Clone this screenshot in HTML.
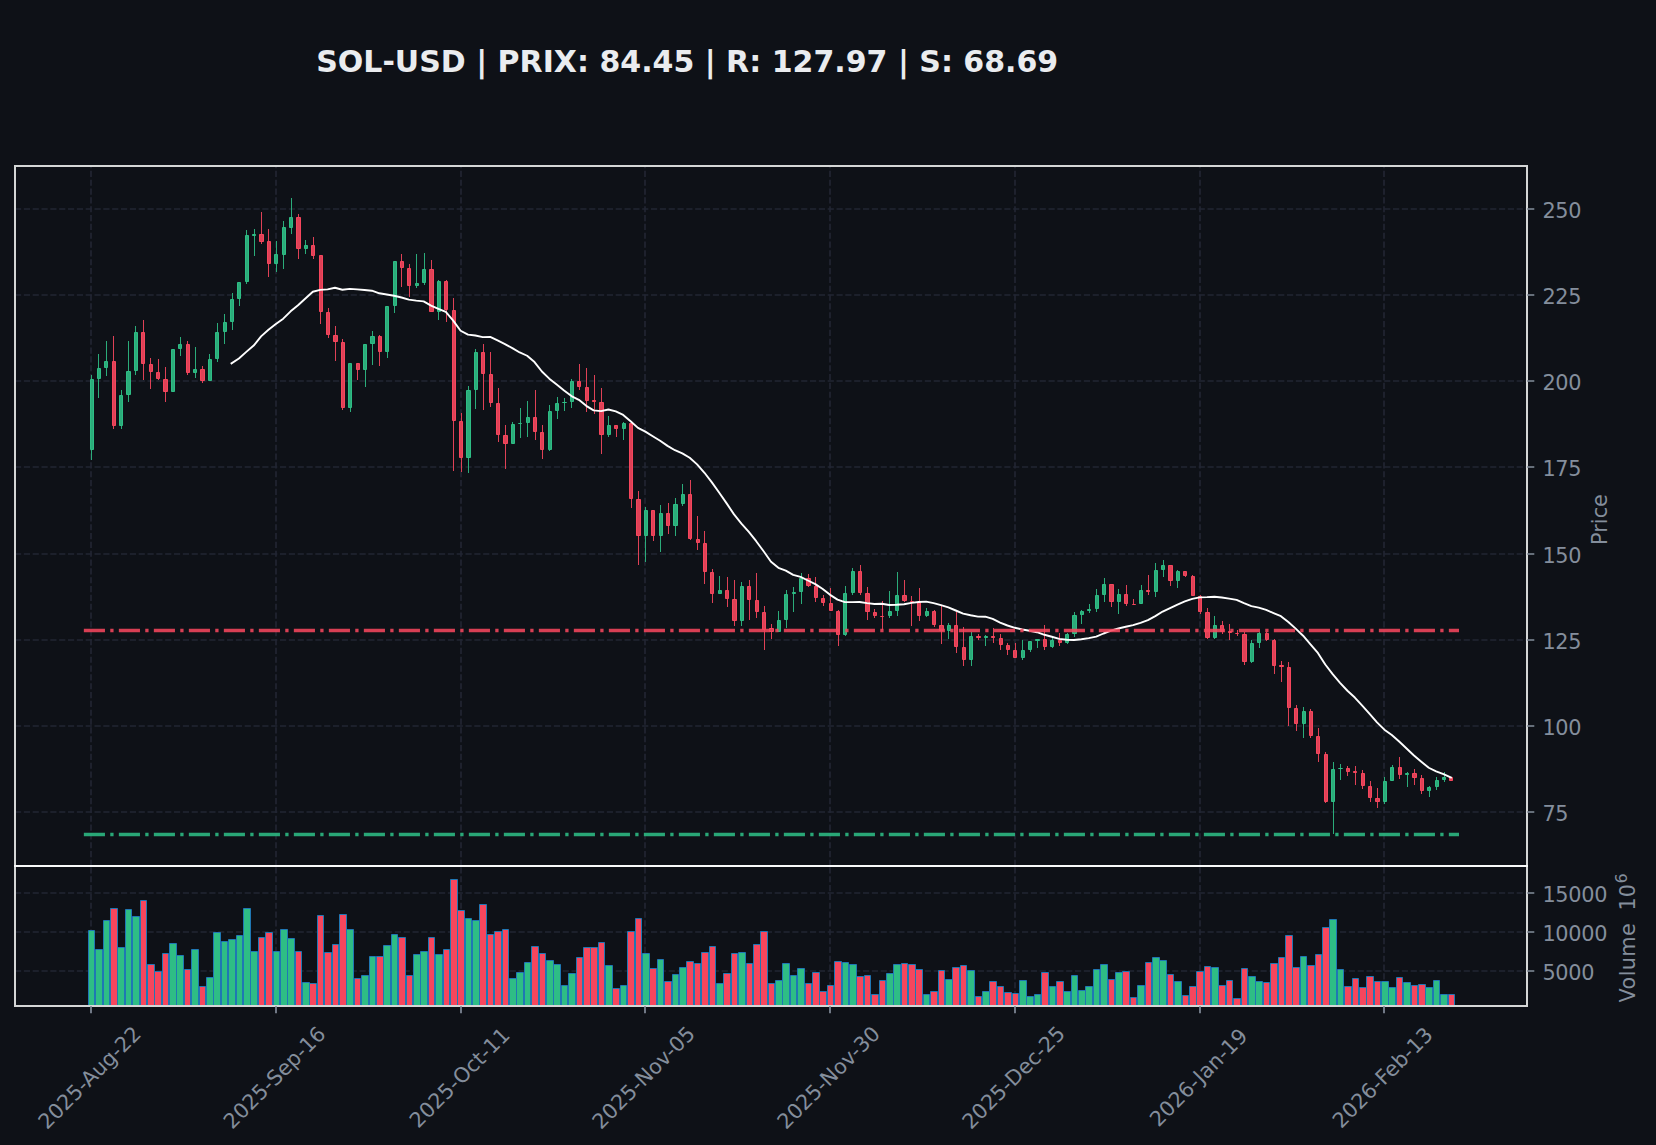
<!DOCTYPE html>
<html lang="fr"><head><meta charset="utf-8"><title>SOL-USD</title>
<style>html,body{margin:0;padding:0;background:#0e1117;}body{width:1656px;height:1145px;overflow:hidden}svg{display:block}</style>
</head><body>
<svg width="1656" height="1145" viewBox="0 0 1656 1145" font-family="'DejaVu Sans','Liberation Sans',sans-serif">
<rect width="1656" height="1145" fill="#0e1117"/>
<defs><clipPath id="cm"><rect x="15.0" y="166.0" width="1512.0" height="700.0"/></clipPath><clipPath id="cv"><rect x="15.0" y="866.0" width="1512.0" height="140.0"/></clipPath></defs>
<path d="M15.0 209.0H1527.0M15.0 295.0H1527.0M15.0 381.0H1527.0M15.0 467.0H1527.0M15.0 554.0H1527.0M15.0 640.0H1527.0M15.0 726.0H1527.0M15.0 812.0H1527.0M15.0 893.0H1527.0M15.0 932.0H1527.0M15.0 971.0H1527.0" stroke="#222633" stroke-width="1.67" stroke-dasharray="6.1667 2.6667" fill="none"/>
<path d="M91 866.0V166.0M276 866.0V166.0M461 866.0V166.0M645 866.0V166.0M830 866.0V166.0M1015 866.0V166.0M1200 866.0V166.0M1384 866.0V166.0" stroke="#222633" stroke-width="1.67" stroke-dasharray="6.1667 2.6667" fill="none"/>
<path d="M91 1006.0V866.0M276 1006.0V866.0M461 1006.0V866.0M645 1006.0V866.0M830 1006.0V866.0M1015 1006.0V866.0M1200 1006.0V866.0M1384 1006.0V866.0" stroke="#222633" stroke-width="1.67" stroke-dasharray="6.1667 2.6667" fill="none"/>
<g clip-path="url(#cv)">
<path d="M88.5 1010.0V930.5H94.5V1010.0" fill="#2ebd85" stroke="#1f77b4" stroke-width="1"/>
<path d="M95.5 1010.0V949.5H102.5V1010.0" fill="#2ebd85" stroke="#1f77b4" stroke-width="1"/>
<path d="M103.5 1010.0V920.5H109.5V1010.0" fill="#2ebd85" stroke="#1f77b4" stroke-width="1"/>
<path d="M110.5 1010.0V908.5H117.5V1010.0" fill="#f6465d" stroke="#1f77b4" stroke-width="1"/>
<path d="M117.5 1010.0V947.5H124.5V1010.0" fill="#2ebd85" stroke="#1f77b4" stroke-width="1"/>
<path d="M125.5 1010.0V909.5H131.5V1010.0" fill="#2ebd85" stroke="#1f77b4" stroke-width="1"/>
<path d="M132.5 1010.0V916.5H139.5V1010.0" fill="#2ebd85" stroke="#1f77b4" stroke-width="1"/>
<path d="M140.5 1010.0V900.5H146.5V1010.0" fill="#f6465d" stroke="#1f77b4" stroke-width="1"/>
<path d="M147.5 1010.0V964.5H154.5V1010.0" fill="#f6465d" stroke="#1f77b4" stroke-width="1"/>
<path d="M154.5 1010.0V971.5H161.5V1010.0" fill="#f6465d" stroke="#1f77b4" stroke-width="1"/>
<path d="M162.5 1010.0V953.5H168.5V1010.0" fill="#f6465d" stroke="#1f77b4" stroke-width="1"/>
<path d="M169.5 1010.0V943.5H176.5V1010.0" fill="#2ebd85" stroke="#1f77b4" stroke-width="1"/>
<path d="M176.5 1010.0V955.5H183.5V1010.0" fill="#2ebd85" stroke="#1f77b4" stroke-width="1"/>
<path d="M184.5 1010.0V969.5H190.5V1010.0" fill="#f6465d" stroke="#1f77b4" stroke-width="1"/>
<path d="M191.5 1010.0V949.5H198.5V1010.0" fill="#2ebd85" stroke="#1f77b4" stroke-width="1"/>
<path d="M199.5 1010.0V986.5H205.5V1010.0" fill="#f6465d" stroke="#1f77b4" stroke-width="1"/>
<path d="M206.5 1010.0V977.5H213.5V1010.0" fill="#2ebd85" stroke="#1f77b4" stroke-width="1"/>
<path d="M213.5 1010.0V932.5H220.5V1010.0" fill="#2ebd85" stroke="#1f77b4" stroke-width="1"/>
<path d="M221.5 1010.0V941.5H227.5V1010.0" fill="#2ebd85" stroke="#1f77b4" stroke-width="1"/>
<path d="M228.5 1010.0V939.5H235.5V1010.0" fill="#2ebd85" stroke="#1f77b4" stroke-width="1"/>
<path d="M236.5 1010.0V935.5H242.5V1010.0" fill="#2ebd85" stroke="#1f77b4" stroke-width="1"/>
<path d="M243.5 1010.0V908.5H250.5V1010.0" fill="#2ebd85" stroke="#1f77b4" stroke-width="1"/>
<path d="M250.5 1010.0V951.5H257.5V1010.0" fill="#2ebd85" stroke="#1f77b4" stroke-width="1"/>
<path d="M258.5 1010.0V937.5H264.5V1010.0" fill="#f6465d" stroke="#1f77b4" stroke-width="1"/>
<path d="M265.5 1010.0V932.5H272.5V1010.0" fill="#f6465d" stroke="#1f77b4" stroke-width="1"/>
<path d="M273.5 1010.0V951.5H279.5V1010.0" fill="#2ebd85" stroke="#1f77b4" stroke-width="1"/>
<path d="M280.5 1010.0V929.5H287.5V1010.0" fill="#2ebd85" stroke="#1f77b4" stroke-width="1"/>
<path d="M287.5 1010.0V938.5H294.5V1010.0" fill="#2ebd85" stroke="#1f77b4" stroke-width="1"/>
<path d="M295.5 1010.0V951.5H301.5V1010.0" fill="#f6465d" stroke="#1f77b4" stroke-width="1"/>
<path d="M302.5 1010.0V982.5H309.5V1010.0" fill="#2ebd85" stroke="#1f77b4" stroke-width="1"/>
<path d="M309.5 1010.0V983.5H316.5V1010.0" fill="#f6465d" stroke="#1f77b4" stroke-width="1"/>
<path d="M317.5 1010.0V915.5H323.5V1010.0" fill="#f6465d" stroke="#1f77b4" stroke-width="1"/>
<path d="M324.5 1010.0V952.5H331.5V1010.0" fill="#f6465d" stroke="#1f77b4" stroke-width="1"/>
<path d="M332.5 1010.0V944.5H338.5V1010.0" fill="#f6465d" stroke="#1f77b4" stroke-width="1"/>
<path d="M339.5 1010.0V914.5H346.5V1010.0" fill="#f6465d" stroke="#1f77b4" stroke-width="1"/>
<path d="M346.5 1010.0V929.5H353.5V1010.0" fill="#2ebd85" stroke="#1f77b4" stroke-width="1"/>
<path d="M354.5 1010.0V978.5H360.5V1010.0" fill="#f6465d" stroke="#1f77b4" stroke-width="1"/>
<path d="M361.5 1010.0V975.5H368.5V1010.0" fill="#2ebd85" stroke="#1f77b4" stroke-width="1"/>
<path d="M369.5 1010.0V956.5H375.5V1010.0" fill="#2ebd85" stroke="#1f77b4" stroke-width="1"/>
<path d="M376.5 1010.0V956.5H383.5V1010.0" fill="#f6465d" stroke="#1f77b4" stroke-width="1"/>
<path d="M383.5 1010.0V945.5H390.5V1010.0" fill="#2ebd85" stroke="#1f77b4" stroke-width="1"/>
<path d="M391.5 1010.0V934.5H397.5V1010.0" fill="#2ebd85" stroke="#1f77b4" stroke-width="1"/>
<path d="M398.5 1010.0V937.5H405.5V1010.0" fill="#f6465d" stroke="#1f77b4" stroke-width="1"/>
<path d="M406.5 1010.0V975.5H412.5V1010.0" fill="#f6465d" stroke="#1f77b4" stroke-width="1"/>
<path d="M413.5 1010.0V954.5H420.5V1010.0" fill="#2ebd85" stroke="#1f77b4" stroke-width="1"/>
<path d="M420.5 1010.0V951.5H427.5V1010.0" fill="#2ebd85" stroke="#1f77b4" stroke-width="1"/>
<path d="M428.5 1010.0V937.5H434.5V1010.0" fill="#f6465d" stroke="#1f77b4" stroke-width="1"/>
<path d="M435.5 1010.0V954.5H442.5V1010.0" fill="#2ebd85" stroke="#1f77b4" stroke-width="1"/>
<path d="M443.5 1010.0V949.5H449.5V1010.0" fill="#f6465d" stroke="#1f77b4" stroke-width="1"/>
<path d="M450.5 1010.0V879.5H457.5V1010.0" fill="#f6465d" stroke="#1f77b4" stroke-width="1"/>
<path d="M457.5 1010.0V910.5H464.5V1010.0" fill="#f6465d" stroke="#1f77b4" stroke-width="1"/>
<path d="M465.5 1010.0V918.5H471.5V1010.0" fill="#2ebd85" stroke="#1f77b4" stroke-width="1"/>
<path d="M472.5 1010.0V920.5H479.5V1010.0" fill="#2ebd85" stroke="#1f77b4" stroke-width="1"/>
<path d="M479.5 1010.0V904.5H486.5V1010.0" fill="#f6465d" stroke="#1f77b4" stroke-width="1"/>
<path d="M487.5 1010.0V934.5H493.5V1010.0" fill="#f6465d" stroke="#1f77b4" stroke-width="1"/>
<path d="M494.5 1010.0V931.5H501.5V1010.0" fill="#f6465d" stroke="#1f77b4" stroke-width="1"/>
<path d="M502.5 1010.0V929.5H508.5V1010.0" fill="#f6465d" stroke="#1f77b4" stroke-width="1"/>
<path d="M509.5 1010.0V978.5H516.5V1010.0" fill="#2ebd85" stroke="#1f77b4" stroke-width="1"/>
<path d="M516.5 1010.0V972.5H523.5V1010.0" fill="#2ebd85" stroke="#1f77b4" stroke-width="1"/>
<path d="M524.5 1010.0V962.5H530.5V1010.0" fill="#2ebd85" stroke="#1f77b4" stroke-width="1"/>
<path d="M531.5 1010.0V946.5H538.5V1010.0" fill="#f6465d" stroke="#1f77b4" stroke-width="1"/>
<path d="M539.5 1010.0V953.5H545.5V1010.0" fill="#f6465d" stroke="#1f77b4" stroke-width="1"/>
<path d="M546.5 1010.0V960.5H553.5V1010.0" fill="#2ebd85" stroke="#1f77b4" stroke-width="1"/>
<path d="M553.5 1010.0V964.5H560.5V1010.0" fill="#2ebd85" stroke="#1f77b4" stroke-width="1"/>
<path d="M561.5 1010.0V985.5H567.5V1010.0" fill="#2ebd85" stroke="#1f77b4" stroke-width="1"/>
<path d="M568.5 1010.0V973.5H575.5V1010.0" fill="#2ebd85" stroke="#1f77b4" stroke-width="1"/>
<path d="M576.5 1010.0V957.5H582.5V1010.0" fill="#f6465d" stroke="#1f77b4" stroke-width="1"/>
<path d="M583.5 1010.0V947.5H590.5V1010.0" fill="#f6465d" stroke="#1f77b4" stroke-width="1"/>
<path d="M590.5 1010.0V947.5H597.5V1010.0" fill="#f6465d" stroke="#1f77b4" stroke-width="1"/>
<path d="M598.5 1010.0V942.5H604.5V1010.0" fill="#f6465d" stroke="#1f77b4" stroke-width="1"/>
<path d="M605.5 1010.0V965.5H612.5V1010.0" fill="#2ebd85" stroke="#1f77b4" stroke-width="1"/>
<path d="M612.5 1010.0V988.5H619.5V1010.0" fill="#f6465d" stroke="#1f77b4" stroke-width="1"/>
<path d="M620.5 1010.0V985.5H626.5V1010.0" fill="#2ebd85" stroke="#1f77b4" stroke-width="1"/>
<path d="M627.5 1010.0V931.5H634.5V1010.0" fill="#f6465d" stroke="#1f77b4" stroke-width="1"/>
<path d="M635.5 1010.0V918.5H641.5V1010.0" fill="#f6465d" stroke="#1f77b4" stroke-width="1"/>
<path d="M642.5 1010.0V953.5H649.5V1010.0" fill="#2ebd85" stroke="#1f77b4" stroke-width="1"/>
<path d="M649.5 1010.0V968.5H656.5V1010.0" fill="#f6465d" stroke="#1f77b4" stroke-width="1"/>
<path d="M657.5 1010.0V959.5H663.5V1010.0" fill="#2ebd85" stroke="#1f77b4" stroke-width="1"/>
<path d="M664.5 1010.0V981.5H671.5V1010.0" fill="#f6465d" stroke="#1f77b4" stroke-width="1"/>
<path d="M672.5 1010.0V974.5H678.5V1010.0" fill="#2ebd85" stroke="#1f77b4" stroke-width="1"/>
<path d="M679.5 1010.0V967.5H686.5V1010.0" fill="#2ebd85" stroke="#1f77b4" stroke-width="1"/>
<path d="M686.5 1010.0V961.5H693.5V1010.0" fill="#f6465d" stroke="#1f77b4" stroke-width="1"/>
<path d="M694.5 1010.0V963.5H700.5V1010.0" fill="#f6465d" stroke="#1f77b4" stroke-width="1"/>
<path d="M701.5 1010.0V952.5H708.5V1010.0" fill="#f6465d" stroke="#1f77b4" stroke-width="1"/>
<path d="M709.5 1010.0V946.5H715.5V1010.0" fill="#f6465d" stroke="#1f77b4" stroke-width="1"/>
<path d="M716.5 1010.0V983.5H723.5V1010.0" fill="#2ebd85" stroke="#1f77b4" stroke-width="1"/>
<path d="M723.5 1010.0V973.5H730.5V1010.0" fill="#f6465d" stroke="#1f77b4" stroke-width="1"/>
<path d="M731.5 1010.0V953.5H737.5V1010.0" fill="#f6465d" stroke="#1f77b4" stroke-width="1"/>
<path d="M738.5 1010.0V952.5H745.5V1010.0" fill="#2ebd85" stroke="#1f77b4" stroke-width="1"/>
<path d="M746.5 1010.0V963.5H752.5V1010.0" fill="#f6465d" stroke="#1f77b4" stroke-width="1"/>
<path d="M753.5 1010.0V944.5H760.5V1010.0" fill="#f6465d" stroke="#1f77b4" stroke-width="1"/>
<path d="M760.5 1010.0V931.5H767.5V1010.0" fill="#f6465d" stroke="#1f77b4" stroke-width="1"/>
<path d="M768.5 1010.0V983.5H774.5V1010.0" fill="#f6465d" stroke="#1f77b4" stroke-width="1"/>
<path d="M775.5 1010.0V980.5H782.5V1010.0" fill="#2ebd85" stroke="#1f77b4" stroke-width="1"/>
<path d="M782.5 1010.0V963.5H789.5V1010.0" fill="#2ebd85" stroke="#1f77b4" stroke-width="1"/>
<path d="M790.5 1010.0V975.5H796.5V1010.0" fill="#2ebd85" stroke="#1f77b4" stroke-width="1"/>
<path d="M797.5 1010.0V968.5H804.5V1010.0" fill="#2ebd85" stroke="#1f77b4" stroke-width="1"/>
<path d="M805.5 1010.0V983.5H811.5V1010.0" fill="#f6465d" stroke="#1f77b4" stroke-width="1"/>
<path d="M812.5 1010.0V972.5H819.5V1010.0" fill="#f6465d" stroke="#1f77b4" stroke-width="1"/>
<path d="M819.5 1010.0V991.5H826.5V1010.0" fill="#f6465d" stroke="#1f77b4" stroke-width="1"/>
<path d="M827.5 1010.0V985.5H833.5V1010.0" fill="#f6465d" stroke="#1f77b4" stroke-width="1"/>
<path d="M834.5 1010.0V961.5H841.5V1010.0" fill="#f6465d" stroke="#1f77b4" stroke-width="1"/>
<path d="M842.5 1010.0V962.5H848.5V1010.0" fill="#2ebd85" stroke="#1f77b4" stroke-width="1"/>
<path d="M849.5 1010.0V964.5H856.5V1010.0" fill="#2ebd85" stroke="#1f77b4" stroke-width="1"/>
<path d="M856.5 1010.0V976.5H863.5V1010.0" fill="#f6465d" stroke="#1f77b4" stroke-width="1"/>
<path d="M864.5 1010.0V975.5H870.5V1010.0" fill="#f6465d" stroke="#1f77b4" stroke-width="1"/>
<path d="M871.5 1010.0V994.5H878.5V1010.0" fill="#f6465d" stroke="#1f77b4" stroke-width="1"/>
<path d="M879.5 1010.0V980.5H885.5V1010.0" fill="#f6465d" stroke="#1f77b4" stroke-width="1"/>
<path d="M886.5 1010.0V973.5H893.5V1010.0" fill="#2ebd85" stroke="#1f77b4" stroke-width="1"/>
<path d="M893.5 1010.0V964.5H900.5V1010.0" fill="#2ebd85" stroke="#1f77b4" stroke-width="1"/>
<path d="M901.5 1010.0V963.5H907.5V1010.0" fill="#f6465d" stroke="#1f77b4" stroke-width="1"/>
<path d="M908.5 1010.0V964.5H915.5V1010.0" fill="#f6465d" stroke="#1f77b4" stroke-width="1"/>
<path d="M915.5 1010.0V969.5H922.5V1010.0" fill="#f6465d" stroke="#1f77b4" stroke-width="1"/>
<path d="M923.5 1010.0V994.5H929.5V1010.0" fill="#2ebd85" stroke="#1f77b4" stroke-width="1"/>
<path d="M930.5 1010.0V991.5H937.5V1010.0" fill="#f6465d" stroke="#1f77b4" stroke-width="1"/>
<path d="M938.5 1010.0V970.5H944.5V1010.0" fill="#f6465d" stroke="#1f77b4" stroke-width="1"/>
<path d="M945.5 1010.0V979.5H952.5V1010.0" fill="#2ebd85" stroke="#1f77b4" stroke-width="1"/>
<path d="M952.5 1010.0V967.5H959.5V1010.0" fill="#f6465d" stroke="#1f77b4" stroke-width="1"/>
<path d="M960.5 1010.0V965.5H966.5V1010.0" fill="#f6465d" stroke="#1f77b4" stroke-width="1"/>
<path d="M967.5 1010.0V970.5H974.5V1010.0" fill="#2ebd85" stroke="#1f77b4" stroke-width="1"/>
<path d="M975.5 1010.0V996.5H981.5V1010.0" fill="#f6465d" stroke="#1f77b4" stroke-width="1"/>
<path d="M982.5 1010.0V991.5H989.5V1010.0" fill="#2ebd85" stroke="#1f77b4" stroke-width="1"/>
<path d="M989.5 1010.0V981.5H996.5V1010.0" fill="#f6465d" stroke="#1f77b4" stroke-width="1"/>
<path d="M997.5 1010.0V986.5H1003.5V1010.0" fill="#f6465d" stroke="#1f77b4" stroke-width="1"/>
<path d="M1004.5 1010.0V992.5H1011.5V1010.0" fill="#f6465d" stroke="#1f77b4" stroke-width="1"/>
<path d="M1012.5 1010.0V993.5H1018.5V1010.0" fill="#f6465d" stroke="#1f77b4" stroke-width="1"/>
<path d="M1019.5 1010.0V980.5H1026.5V1010.0" fill="#2ebd85" stroke="#1f77b4" stroke-width="1"/>
<path d="M1026.5 1010.0V996.5H1033.5V1010.0" fill="#2ebd85" stroke="#1f77b4" stroke-width="1"/>
<path d="M1034.5 1010.0V994.5H1040.5V1010.0" fill="#2ebd85" stroke="#1f77b4" stroke-width="1"/>
<path d="M1041.5 1010.0V972.5H1048.5V1010.0" fill="#f6465d" stroke="#1f77b4" stroke-width="1"/>
<path d="M1049.5 1010.0V986.5H1055.5V1010.0" fill="#2ebd85" stroke="#1f77b4" stroke-width="1"/>
<path d="M1056.5 1010.0V981.5H1063.5V1010.0" fill="#f6465d" stroke="#1f77b4" stroke-width="1"/>
<path d="M1063.5 1010.0V991.5H1070.5V1010.0" fill="#2ebd85" stroke="#1f77b4" stroke-width="1"/>
<path d="M1071.5 1010.0V975.5H1077.5V1010.0" fill="#2ebd85" stroke="#1f77b4" stroke-width="1"/>
<path d="M1078.5 1010.0V990.5H1085.5V1010.0" fill="#2ebd85" stroke="#1f77b4" stroke-width="1"/>
<path d="M1085.5 1010.0V986.5H1092.5V1010.0" fill="#2ebd85" stroke="#1f77b4" stroke-width="1"/>
<path d="M1093.5 1010.0V969.5H1099.5V1010.0" fill="#2ebd85" stroke="#1f77b4" stroke-width="1"/>
<path d="M1100.5 1010.0V964.5H1107.5V1010.0" fill="#2ebd85" stroke="#1f77b4" stroke-width="1"/>
<path d="M1108.5 1010.0V979.5H1114.5V1010.0" fill="#f6465d" stroke="#1f77b4" stroke-width="1"/>
<path d="M1115.5 1010.0V972.5H1122.5V1010.0" fill="#2ebd85" stroke="#1f77b4" stroke-width="1"/>
<path d="M1122.5 1010.0V971.5H1129.5V1010.0" fill="#f6465d" stroke="#1f77b4" stroke-width="1"/>
<path d="M1130.5 1010.0V997.5H1136.5V1010.0" fill="#f6465d" stroke="#1f77b4" stroke-width="1"/>
<path d="M1137.5 1010.0V985.5H1144.5V1010.0" fill="#2ebd85" stroke="#1f77b4" stroke-width="1"/>
<path d="M1145.5 1010.0V962.5H1151.5V1010.0" fill="#f6465d" stroke="#1f77b4" stroke-width="1"/>
<path d="M1152.5 1010.0V957.5H1159.5V1010.0" fill="#2ebd85" stroke="#1f77b4" stroke-width="1"/>
<path d="M1159.5 1010.0V960.5H1166.5V1010.0" fill="#2ebd85" stroke="#1f77b4" stroke-width="1"/>
<path d="M1167.5 1010.0V974.5H1173.5V1010.0" fill="#f6465d" stroke="#1f77b4" stroke-width="1"/>
<path d="M1174.5 1010.0V981.5H1181.5V1010.0" fill="#2ebd85" stroke="#1f77b4" stroke-width="1"/>
<path d="M1182.5 1010.0V995.5H1188.5V1010.0" fill="#f6465d" stroke="#1f77b4" stroke-width="1"/>
<path d="M1189.5 1010.0V986.5H1196.5V1010.0" fill="#f6465d" stroke="#1f77b4" stroke-width="1"/>
<path d="M1196.5 1010.0V971.5H1203.5V1010.0" fill="#f6465d" stroke="#1f77b4" stroke-width="1"/>
<path d="M1204.5 1010.0V966.5H1210.5V1010.0" fill="#f6465d" stroke="#1f77b4" stroke-width="1"/>
<path d="M1211.5 1010.0V967.5H1218.5V1010.0" fill="#2ebd85" stroke="#1f77b4" stroke-width="1"/>
<path d="M1218.5 1010.0V985.5H1225.5V1010.0" fill="#f6465d" stroke="#1f77b4" stroke-width="1"/>
<path d="M1226.5 1010.0V980.5H1232.5V1010.0" fill="#f6465d" stroke="#1f77b4" stroke-width="1"/>
<path d="M1233.5 1010.0V998.5H1240.5V1010.0" fill="#f6465d" stroke="#1f77b4" stroke-width="1"/>
<path d="M1241.5 1010.0V968.5H1247.5V1010.0" fill="#f6465d" stroke="#1f77b4" stroke-width="1"/>
<path d="M1248.5 1010.0V976.5H1255.5V1010.0" fill="#2ebd85" stroke="#1f77b4" stroke-width="1"/>
<path d="M1255.5 1010.0V981.5H1262.5V1010.0" fill="#2ebd85" stroke="#1f77b4" stroke-width="1"/>
<path d="M1263.5 1010.0V982.5H1269.5V1010.0" fill="#f6465d" stroke="#1f77b4" stroke-width="1"/>
<path d="M1270.5 1010.0V963.5H1277.5V1010.0" fill="#f6465d" stroke="#1f77b4" stroke-width="1"/>
<path d="M1278.5 1010.0V957.5H1284.5V1010.0" fill="#f6465d" stroke="#1f77b4" stroke-width="1"/>
<path d="M1285.5 1010.0V935.5H1292.5V1010.0" fill="#f6465d" stroke="#1f77b4" stroke-width="1"/>
<path d="M1292.5 1010.0V967.5H1299.5V1010.0" fill="#f6465d" stroke="#1f77b4" stroke-width="1"/>
<path d="M1300.5 1010.0V956.5H1306.5V1010.0" fill="#2ebd85" stroke="#1f77b4" stroke-width="1"/>
<path d="M1307.5 1010.0V965.5H1314.5V1010.0" fill="#f6465d" stroke="#1f77b4" stroke-width="1"/>
<path d="M1315.5 1010.0V954.5H1321.5V1010.0" fill="#f6465d" stroke="#1f77b4" stroke-width="1"/>
<path d="M1322.5 1010.0V927.5H1329.5V1010.0" fill="#f6465d" stroke="#1f77b4" stroke-width="1"/>
<path d="M1329.5 1010.0V919.5H1336.5V1010.0" fill="#2ebd85" stroke="#1f77b4" stroke-width="1"/>
<path d="M1337.5 1010.0V969.5H1343.5V1010.0" fill="#2ebd85" stroke="#1f77b4" stroke-width="1"/>
<path d="M1344.5 1010.0V986.5H1351.5V1010.0" fill="#f6465d" stroke="#1f77b4" stroke-width="1"/>
<path d="M1352.5 1010.0V978.5H1358.5V1010.0" fill="#f6465d" stroke="#1f77b4" stroke-width="1"/>
<path d="M1359.5 1010.0V987.5H1366.5V1010.0" fill="#f6465d" stroke="#1f77b4" stroke-width="1"/>
<path d="M1366.5 1010.0V976.5H1373.5V1010.0" fill="#f6465d" stroke="#1f77b4" stroke-width="1"/>
<path d="M1374.5 1010.0V981.5H1380.5V1010.0" fill="#f6465d" stroke="#1f77b4" stroke-width="1"/>
<path d="M1381.5 1010.0V981.5H1388.5V1010.0" fill="#2ebd85" stroke="#1f77b4" stroke-width="1"/>
<path d="M1388.5 1010.0V987.5H1395.5V1010.0" fill="#2ebd85" stroke="#1f77b4" stroke-width="1"/>
<path d="M1396.5 1010.0V977.5H1402.5V1010.0" fill="#f6465d" stroke="#1f77b4" stroke-width="1"/>
<path d="M1403.5 1010.0V982.5H1410.5V1010.0" fill="#2ebd85" stroke="#1f77b4" stroke-width="1"/>
<path d="M1411.5 1010.0V985.5H1417.5V1010.0" fill="#f6465d" stroke="#1f77b4" stroke-width="1"/>
<path d="M1418.5 1010.0V984.5H1425.5V1010.0" fill="#f6465d" stroke="#1f77b4" stroke-width="1"/>
<path d="M1425.5 1010.0V987.5H1432.5V1010.0" fill="#2ebd85" stroke="#1f77b4" stroke-width="1"/>
<path d="M1433.5 1010.0V980.5H1439.5V1010.0" fill="#2ebd85" stroke="#1f77b4" stroke-width="1"/>
<path d="M1440.5 1010.0V994.5H1447.5V1010.0" fill="#2ebd85" stroke="#1f77b4" stroke-width="1"/>
<path d="M1448.5 1010.0V994.5H1454.5V1010.0" fill="#f6465d" stroke="#1f77b4" stroke-width="1"/>
</g>
<g clip-path="url(#cm)">
<path d="M91.5 375V460M98.5 354V398M106.5 341V376M121.5 390V429M128.5 341V402M135.5 326V375M172.5 349V392M180.5 337V356M195.5 347V378M209.5 354V381M217.5 323V362M224.5 314V344M232.5 293V330M239.5 282V306M246.5 230V284M254.5 229V256M276.5 241V272M283.5 221V269M291.5 198V234M305.5 240V254M350.5 363V412M365.5 344V387M372.5 331V365M387.5 306V358M394.5 261V313M416.5 254V288M424.5 253V285M438.5 280V320M468.5 386V473M475.5 349V409M512.5 422V444M520.5 408V438M527.5 401V437M549.5 405V451M557.5 397V419M564.5 398V411M571.5 379V408M608.5 416V437M623.5 422V440M645.5 507V562M660.5 505V552M675.5 498V536M682.5 484V506M719.5 576V594M741.5 582V626M778.5 611V632M786.5 590V628M793.5 587V612M801.5 573V604M845.5 586V636M852.5 568V595M889.5 591V618M897.5 572V616M926.5 608V617M948.5 623V639M971.5 632V666M985.5 635V646M1022.5 640V660M1030.5 641V652M1037.5 639V648M1052.5 638V648M1067.5 633V644M1074.5 612V637M1081.5 610V624M1089.5 604V613M1096.5 589V612M1104.5 578V602M1118.5 589V614M1141.5 585V604M1155.5 563V597M1163.5 560V577M1177.5 570V588M1214.5 616V639M1251.5 640V663M1259.5 632V648M1303.5 707V738M1333.5 762V834M1340.5 764V780M1384.5 777V804M1392.5 765V781M1407.5 772V787M1429.5 786V797M1436.5 777V790M1444.5 772V782" stroke="#2bac7a" stroke-width="1" fill="none"/>
<path d="M113.5 336V429M143.5 320V380M150.5 358V389M158.5 359V380M165.5 367V402M187.5 341V375M202.5 366V383M261.5 212V244M268.5 229V277M298.5 214V259M313.5 237V259M320.5 255V324M328.5 308V338M335.5 326V361M342.5 339V410M357.5 363V380M379.5 335V366M401.5 254V287M409.5 264V297M431.5 260V312M446.5 280V322M453.5 298V471M461.5 413V472M483.5 344V410M490.5 352V407M498.5 388V442M505.5 425V469M535.5 390V440M542.5 425V459M579.5 364V390M586.5 368V412M594.5 375V414M601.5 388V454M616.5 425V437M631.5 423V508M638.5 491V565M653.5 510V541M668.5 503V534M690.5 480V540M697.5 516V550M704.5 531V584M712.5 569V603M727.5 577V607M734.5 580V626M749.5 580V620M756.5 573V618M764.5 606V650M771.5 624V639M808.5 574V587M815.5 577V602M823.5 595V606M830.5 588V611M838.5 610V646M860.5 565V595M867.5 587V620M874.5 609V618M882.5 601V630M904.5 580V602M911.5 596V626M919.5 588V621M934.5 610V627M941.5 606V644M956.5 612V653M963.5 627V666M978.5 634V640M993.5 628V643M1000.5 634V650M1007.5 643V655M1015.5 643V658M1044.5 625V650M1059.5 633V646M1111.5 584V607M1126.5 585V606M1133.5 599V605M1148.5 575V595M1170.5 565V586M1185.5 571V577M1192.5 575V596M1200.5 595V614M1207.5 608V639M1222.5 621V634M1229.5 624V640M1237.5 630V636M1244.5 632V665M1266.5 632V641M1274.5 639V674M1281.5 661V682M1288.5 662V726M1296.5 705V731M1310.5 709V738M1318.5 728V762M1325.5 752V803M1347.5 766V776M1355.5 766V785M1362.5 770V789M1370.5 781V802M1377.5 788V808M1399.5 757V779M1414.5 769V785M1421.5 775V794M1451.5 777V781" stroke="#df4156" stroke-width="1" fill="none"/>
<path d="M90.5 379.5H93.5V449.5H90.5ZM97.5 368.5H100.5V378.5H97.5ZM104.5 361.5H107.5V367.5H104.5ZM119.5 395.5H122.5V425.5H119.5ZM126.5 371.5H130.5V394.5H126.5ZM134.5 332.5H137.5V370.5H134.5ZM171.5 349.5H174.5V391.5H171.5ZM178.5 344.5H181.5V348.5H178.5ZM193.5 369.5H196.5V372.5H193.5ZM208.5 359.5H211.5V380.5H208.5ZM215.5 332.5H218.5V358.5H215.5ZM223.5 322.5H226.5V331.5H223.5ZM230.5 299.5H233.5V321.5H230.5ZM237.5 282.5H240.5V298.5H237.5ZM245.5 235.5H248.5V281.5H245.5ZM252.5 234.5H255.5V235.5H252.5ZM274.5 254.5H277.5V263.5H274.5ZM282.5 227.5H285.5V254.5H282.5ZM289.5 217.5H292.5V227.5H289.5ZM304.5 245.5H307.5V248.5H304.5ZM348.5 363.5H351.5V407.5H348.5ZM363.5 344.5H366.5V369.5H363.5ZM370.5 336.5H374.5V343.5H370.5ZM385.5 306.5H388.5V351.5H385.5ZM393.5 261.5H396.5V305.5H393.5ZM415.5 283.5H418.5V285.5H415.5ZM422.5 269.5H425.5V282.5H422.5ZM437.5 281.5H440.5V311.5H437.5ZM466.5 390.5H470.5V457.5H466.5ZM474.5 352.5H477.5V389.5H474.5ZM511.5 424.5H514.5V443.5H511.5ZM518.5 423.5H521.5V423.5H518.5ZM526.5 417.5H529.5V422.5H526.5ZM548.5 411.5H551.5V449.5H548.5ZM555.5 403.5H558.5V410.5H555.5ZM562.5 402.5H566.5V402.5H562.5ZM570.5 381.5H573.5V401.5H570.5ZM607.5 425.5H610.5V434.5H607.5ZM622.5 423.5H625.5V428.5H622.5ZM644.5 510.5H647.5V535.5H644.5ZM659.5 513.5H662.5V535.5H659.5ZM673.5 504.5H677.5V525.5H673.5ZM681.5 494.5H684.5V503.5H681.5ZM718.5 590.5H721.5V593.5H718.5ZM740.5 586.5H743.5V620.5H740.5ZM777.5 620.5H780.5V631.5H777.5ZM784.5 594.5H787.5V619.5H784.5ZM792.5 592.5H795.5V593.5H792.5ZM799.5 578.5H802.5V591.5H799.5ZM843.5 593.5H846.5V634.5H843.5ZM851.5 571.5H854.5V592.5H851.5ZM888.5 611.5H891.5V615.5H888.5ZM895.5 595.5H898.5V610.5H895.5ZM925.5 611.5H928.5V615.5H925.5ZM947.5 625.5H950.5V630.5H947.5ZM969.5 636.5H972.5V659.5H969.5ZM984.5 636.5H987.5V637.5H984.5ZM1021.5 650.5H1024.5V657.5H1021.5ZM1028.5 641.5H1031.5V649.5H1028.5ZM1035.5 639.5H1039.5V640.5H1035.5ZM1050.5 640.5H1053.5V646.5H1050.5ZM1065.5 634.5H1068.5V642.5H1065.5ZM1072.5 615.5H1076.5V633.5H1072.5ZM1080.5 611.5H1083.5V614.5H1080.5ZM1087.5 609.5H1090.5V610.5H1087.5ZM1095.5 595.5H1098.5V608.5H1095.5ZM1102.5 584.5H1105.5V594.5H1102.5ZM1117.5 594.5H1120.5V601.5H1117.5ZM1139.5 590.5H1142.5V603.5H1139.5ZM1154.5 570.5H1157.5V591.5H1154.5ZM1161.5 565.5H1164.5V569.5H1161.5ZM1176.5 571.5H1179.5V580.5H1176.5ZM1213.5 625.5H1216.5V637.5H1213.5ZM1250.5 643.5H1253.5V661.5H1250.5ZM1257.5 633.5H1260.5V642.5H1257.5ZM1302.5 711.5H1305.5V723.5H1302.5ZM1331.5 769.5H1334.5V801.5H1331.5ZM1338.5 768.5H1342.5V768.5H1338.5ZM1383.5 781.5H1386.5V801.5H1383.5ZM1390.5 767.5H1393.5V780.5H1390.5ZM1405.5 773.5H1408.5V774.5H1405.5ZM1427.5 787.5H1430.5V790.5H1427.5ZM1435.5 780.5H1438.5V786.5H1435.5ZM1442.5 777.5H1445.5V779.5H1442.5Z" fill="#2bac7a" stroke="#2ebd85" stroke-width="1"/>
<path d="M112.5 361.5H115.5V425.5H112.5ZM141.5 332.5H144.5V363.5H141.5ZM149.5 364.5H152.5V371.5H149.5ZM156.5 372.5H159.5V378.5H156.5ZM163.5 379.5H167.5V391.5H163.5ZM186.5 344.5H189.5V372.5H186.5ZM200.5 369.5H204.5V380.5H200.5ZM259.5 234.5H263.5V241.5H259.5ZM267.5 241.5H270.5V263.5H267.5ZM296.5 217.5H300.5V248.5H296.5ZM311.5 245.5H314.5V255.5H311.5ZM319.5 255.5H322.5V311.5H319.5ZM326.5 312.5H329.5V334.5H326.5ZM333.5 335.5H337.5V341.5H333.5ZM341.5 342.5H344.5V407.5H341.5ZM356.5 363.5H359.5V369.5H356.5ZM378.5 336.5H381.5V351.5H378.5ZM400.5 261.5H403.5V267.5H400.5ZM407.5 268.5H410.5V285.5H407.5ZM429.5 269.5H433.5V311.5H429.5ZM444.5 281.5H447.5V309.5H444.5ZM452.5 310.5H455.5V420.5H452.5ZM459.5 421.5H462.5V457.5H459.5ZM481.5 352.5H484.5V373.5H481.5ZM489.5 374.5H492.5V402.5H489.5ZM496.5 403.5H499.5V434.5H496.5ZM503.5 435.5H507.5V443.5H503.5ZM533.5 417.5H536.5V431.5H533.5ZM540.5 432.5H543.5V449.5H540.5ZM577.5 381.5H580.5V386.5H577.5ZM585.5 387.5H588.5V400.5H585.5ZM592.5 400.5H595.5V401.5H592.5ZM599.5 402.5H603.5V434.5H599.5ZM614.5 425.5H617.5V428.5H614.5ZM629.5 423.5H632.5V498.5H629.5ZM636.5 499.5H640.5V535.5H636.5ZM651.5 510.5H654.5V535.5H651.5ZM666.5 513.5H669.5V525.5H666.5ZM688.5 494.5H691.5V538.5H688.5ZM696.5 539.5H699.5V542.5H696.5ZM703.5 543.5H706.5V571.5H703.5ZM710.5 572.5H713.5V593.5H710.5ZM725.5 590.5H728.5V598.5H725.5ZM732.5 599.5H736.5V620.5H732.5ZM747.5 586.5H750.5V599.5H747.5ZM755.5 600.5H758.5V611.5H755.5ZM762.5 612.5H765.5V629.5H762.5ZM769.5 628.5H773.5V631.5H769.5ZM806.5 578.5H810.5V585.5H806.5ZM814.5 586.5H817.5V597.5H814.5ZM821.5 598.5H824.5V602.5H821.5ZM829.5 603.5H832.5V610.5H829.5ZM836.5 611.5H839.5V634.5H836.5ZM858.5 571.5H861.5V592.5H858.5ZM865.5 593.5H869.5V611.5H865.5ZM873.5 612.5H876.5V615.5H873.5ZM880.5 616.5H883.5V616.5H880.5ZM902.5 595.5H906.5V600.5H902.5ZM910.5 601.5H913.5V601.5H910.5ZM917.5 602.5H920.5V615.5H917.5ZM932.5 611.5H935.5V624.5H932.5ZM939.5 625.5H943.5V630.5H939.5ZM954.5 625.5H957.5V646.5H954.5ZM962.5 647.5H965.5V659.5H962.5ZM976.5 636.5H980.5V637.5H976.5ZM991.5 636.5H994.5V637.5H991.5ZM999.5 638.5H1002.5V644.5H999.5ZM1006.5 645.5H1009.5V649.5H1006.5ZM1013.5 650.5H1016.5V657.5H1013.5ZM1043.5 639.5H1046.5V646.5H1043.5ZM1058.5 640.5H1061.5V642.5H1058.5ZM1109.5 584.5H1113.5V601.5H1109.5ZM1124.5 594.5H1127.5V603.5H1124.5ZM1132.5 604.5H1135.5V604.5H1132.5ZM1146.5 590.5H1149.5V591.5H1146.5ZM1168.5 565.5H1172.5V580.5H1168.5ZM1183.5 571.5H1186.5V575.5H1183.5ZM1191.5 576.5H1194.5V595.5H1191.5ZM1198.5 596.5H1201.5V611.5H1198.5ZM1205.5 612.5H1209.5V637.5H1205.5ZM1220.5 625.5H1223.5V631.5H1220.5ZM1228.5 631.5H1231.5V632.5H1228.5ZM1235.5 633.5H1238.5V633.5H1235.5ZM1242.5 634.5H1246.5V661.5H1242.5ZM1265.5 633.5H1268.5V639.5H1265.5ZM1272.5 640.5H1275.5V665.5H1272.5ZM1279.5 665.5H1283.5V666.5H1279.5ZM1287.5 667.5H1290.5V707.5H1287.5ZM1294.5 708.5H1297.5V723.5H1294.5ZM1309.5 711.5H1312.5V735.5H1309.5ZM1316.5 736.5H1319.5V753.5H1316.5ZM1324.5 754.5H1327.5V801.5H1324.5ZM1346.5 768.5H1349.5V771.5H1346.5ZM1353.5 771.5H1356.5V772.5H1353.5ZM1361.5 773.5H1364.5V785.5H1361.5ZM1368.5 786.5H1371.5V797.5H1368.5ZM1375.5 798.5H1379.5V801.5H1375.5ZM1398.5 767.5H1401.5V774.5H1398.5ZM1412.5 773.5H1416.5V777.5H1412.5ZM1420.5 778.5H1423.5V790.5H1420.5ZM1449.5 777.5H1452.5V780.5H1449.5Z" fill="#df4156" stroke="#f6465d" stroke-width="1"/>
<polyline points="231.51,363.39 238.90,358.53 246.29,351.88 253.68,345.54 261.07,336.35 268.46,329.79 275.85,323.94 283.24,318.68 290.63,311.34 298.02,305.19 305.41,298.50 312.80,291.71 320.19,289.85 327.58,289.37 334.97,287.78 342.36,289.75 349.75,288.87 357.14,289.39 364.53,289.99 371.92,290.68 379.31,293.30 386.70,294.49 394.09,295.78 401.48,297.48 408.87,299.65 416.26,300.60 423.65,301.36 431.04,305.61 438.43,308.79 445.82,311.87 453.21,320.64 460.61,330.74 468.00,334.64 475.39,335.51 482.78,337.12 490.17,336.84 497.56,340.43 504.95,344.12 512.34,348.12 519.73,352.46 527.12,355.75 534.51,362.05 541.90,371.52 549.29,378.68 556.68,384.55 564.07,390.51 571.46,396.11 578.85,399.86 586.24,405.84 593.63,410.42 601.02,411.11 608.41,409.49 615.80,411.44 623.19,414.97 630.58,421.21 637.97,427.85 645.36,431.61 652.75,436.26 660.14,440.71 667.53,445.88 674.92,450.21 682.31,453.32 689.70,457.75 697.09,464.34 704.48,472.77 711.87,482.36 719.26,492.81 726.65,503.41 734.04,514.40 741.43,523.62 748.82,531.87 756.21,541.21 763.61,551.24 771.00,561.69 778.39,567.76 785.78,570.69 793.17,574.80 800.56,576.87 807.95,580.52 815.34,584.09 822.73,589.03 830.12,594.87 837.51,599.65 844.90,602.14 852.29,602.10 859.68,602.06 867.07,603.15 874.46,604.00 881.85,603.76 889.24,605.02 896.63,604.79 904.02,604.25 911.41,602.85 918.80,602.05 926.19,601.61 933.58,603.15 940.97,605.10 948.36,607.45 955.75,610.50 963.14,613.61 970.53,615.28 977.92,616.62 985.31,616.71 992.70,618.95 1000.09,622.64 1007.48,625.50 1014.87,627.79 1022.26,629.52 1029.65,630.79 1037.04,632.20 1044.43,634.78 1051.83,636.76 1059.22,638.83 1066.61,639.74 1074.00,639.94 1081.39,639.24 1088.78,638.14 1096.17,636.64 1103.56,633.50 1110.95,630.61 1118.34,628.49 1125.73,626.79 1133.12,625.19 1140.51,622.81 1147.90,620.17 1155.29,616.17 1162.68,611.54 1170.07,608.06 1177.46,604.54 1184.85,601.38 1192.24,598.83 1199.63,597.41 1207.02,597.16 1214.41,596.70 1221.80,597.51 1229.19,598.62 1236.58,599.85 1243.97,603.17 1251.36,606.11 1258.75,607.66 1266.14,609.96 1273.53,613.06 1280.92,616.17 1288.31,622.06 1295.70,628.65 1303.09,635.71 1310.48,644.27 1317.87,652.96 1325.26,664.51 1332.65,674.15 1340.04,682.79 1347.43,690.76 1354.83,697.53 1362.22,705.56 1369.61,713.89 1377.00,722.32 1384.39,729.68 1391.78,734.96 1399.17,741.56 1406.56,748.56 1413.95,755.47 1421.34,761.73 1428.73,767.75 1436.12,771.35 1443.51,774.02 1450.90,777.51" stroke="#ffffff" stroke-width="1.9" fill="none" stroke-linejoin="round" stroke-linecap="square"/>
<path d="M83.85 630.5H1459" stroke="#f6465d" stroke-opacity="0.87" stroke-width="3.3" stroke-dasharray="21.12 5.29 3.3 5.29" fill="none"/>
<path d="M83.85 834.5H1459" stroke="#2ebd85" stroke-opacity="0.87" stroke-width="3.3" stroke-dasharray="21.12 5.29 3.3 5.29" fill="none"/>
</g>
<path d="M15.0 166.0H1527.0V1006.0H15.0Z" stroke="#d4d6d6" stroke-width="2" fill="none" stroke-linejoin="miter"/>
<path d="M14.0 866.0H1528.0" stroke="#f8f9f9" stroke-width="2" fill="none"/>
<path d="M1527.0 209.0h7.3M1527.0 295.0h7.3M1527.0 381.0h7.3M1527.0 467.0h7.3M1527.0 554.0h7.3M1527.0 640.0h7.3M1527.0 726.0h7.3M1527.0 812.0h7.3M1527.0 893.0h7.3M1527.0 932.0h7.3M1527.0 971.0h7.3M91 1006.0v7.3M276 1006.0v7.3M461 1006.0v7.3M645 1006.0v7.3M830 1006.0v7.3M1015 1006.0v7.3M1200 1006.0v7.3M1384 1006.0v7.3" stroke="#848e9c" stroke-width="1.67" fill="none"/>
<text x="1542.4" y="218.1" font-size="20.83" letter-spacing="-0.3" fill="#848e9c">250</text>
<text x="1542.4" y="304.1" font-size="20.83" letter-spacing="-0.3" fill="#848e9c">225</text>
<text x="1542.4" y="390.1" font-size="20.83" letter-spacing="-0.3" fill="#848e9c">200</text>
<text x="1542.4" y="476.1" font-size="20.83" letter-spacing="-0.3" fill="#848e9c">175</text>
<text x="1542.4" y="563.1" font-size="20.83" letter-spacing="-0.3" fill="#848e9c">150</text>
<text x="1542.4" y="649.1" font-size="20.83" letter-spacing="-0.3" fill="#848e9c">125</text>
<text x="1542.4" y="735.1" font-size="20.83" letter-spacing="-0.3" fill="#848e9c">100</text>
<text x="1542.4" y="821.1" font-size="20.83" letter-spacing="-0.3" fill="#848e9c">75</text>
<text x="1542.4" y="902.1" font-size="20.83" letter-spacing="-0.3" fill="#848e9c">15000</text>
<text x="1542.4" y="941.1" font-size="20.83" letter-spacing="-0.3" fill="#848e9c">10000</text>
<text x="1542.4" y="980.1" font-size="20.83" letter-spacing="-0.3" fill="#848e9c">5000</text>
<text transform="translate(89.5,1077.5) rotate(-45)" text-anchor="middle" font-size="20.83" fill="#848e9c" dy="7.3">2025-Aug-22</text>
<text transform="translate(274.5,1077.5) rotate(-45)" text-anchor="middle" font-size="20.83" fill="#848e9c" dy="7.3">2025-Sep-16</text>
<text transform="translate(459.5,1077.5) rotate(-45)" text-anchor="middle" font-size="20.83" fill="#848e9c" dy="7.3">2025-Oct-11</text>
<text transform="translate(643.5,1077.5) rotate(-45)" text-anchor="middle" font-size="20.83" fill="#848e9c" dy="7.3">2025-Nov-05</text>
<text transform="translate(828.5,1077.5) rotate(-45)" text-anchor="middle" font-size="20.83" fill="#848e9c" dy="7.3">2025-Nov-30</text>
<text transform="translate(1013.5,1077.5) rotate(-45)" text-anchor="middle" font-size="20.83" fill="#848e9c" dy="7.3">2025-Dec-25</text>
<text transform="translate(1198.5,1077.5) rotate(-45)" text-anchor="middle" font-size="20.83" fill="#848e9c" dy="7.3">2026-Jan-19</text>
<text transform="translate(1382.5,1077.5) rotate(-45)" text-anchor="middle" font-size="20.83" fill="#848e9c" dy="7.3">2026-Feb-13</text>
<text transform="translate(1607,519.5) rotate(-90)" text-anchor="middle" font-size="20.83" fill="#848e9c">Price</text>
<text transform="translate(1635.2,1002.4) rotate(-90)" font-size="20.83" letter-spacing="0.35" fill="#848e9c">Volume</text>
<text transform="translate(1635.2,910.4) rotate(-90)" font-size="20.83" fill="#848e9c">10</text>
<text transform="translate(1627.3,883.2) rotate(-90)" font-size="15.5" fill="#848e9c">6</text>
<text x="687.2" y="72" text-anchor="middle" font-size="30" font-weight="bold" fill="#eaecef">SOL-USD | PRIX: 84.45 | R: 127.97 | S: 68.69</text>
</svg>
</body></html>
